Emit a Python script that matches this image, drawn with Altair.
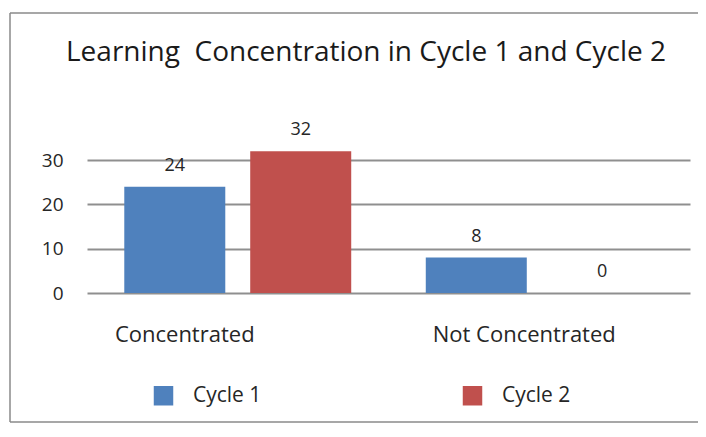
import altair as alt
import pandas as pd

categories = ["Concentrated", "Not Concentrated"]
series = ["Cycle 1", "Cycle 2"]
cycle1 = [24, 8]
cycle2 = [32, 0]
colors = ["#4F81BD", "#C0504D"]
y_ticks = [0, 10, 20, 30]
title_text = "Learning\u00a0 Concentration in Cycle 1 and Cycle 2"

rows = []
for c, v1, v2 in zip(categories, cycle1, cycle2):
    rows.append({"category": c, "series": series[0], "value": v1})
    rows.append({"category": c, "series": series[1], "value": v2})
df = pd.DataFrame(rows)

FONT = "Open Sans"
TXT = "#262626"

x_enc = alt.X(
    "category:N",
    sort=categories,
    scale=alt.Scale(paddingInner=0, paddingOuter=0),
    axis=alt.Axis(
        title=None, domain=False, ticks=False, grid=False, labelLimit=0,
        labelFontSize=22, labelColor=TXT, labelPadding=31, labelAngle=0,
        labelOffset={"condition": {"test": "datum.value === 'Concentrated'", "value": -53}, "value": -15},
    ),
)
xo_enc = alt.XOffset("series:N", sort=series,
                     scale=alt.Scale(paddingInner=0.198, paddingOuter=0.296))
y_enc = alt.Y(
    "value:Q",
    scale=alt.Scale(domain=[0, 35], nice=False),
    axis=alt.Axis(
        title=None, domain=False, ticks=False, values=y_ticks,
        gridColor="#8f8f8f", gridWidth=2, labelFontSize=19, labelColor=TXT,
        labelPadding=24,
    ),
)

bars = alt.Chart(df).mark_bar().encode(
    x=x_enc,
    xOffset=xo_enc,
    y=y_enc,
    color=alt.Color(
        "series:N",
        scale=alt.Scale(domain=series, range=colors),
        legend=alt.Legend(
            orient="none", legendX=66, legendY=247, direction="horizontal",
            title=None, symbolType="square", symbolSize=380, symbolStrokeWidth=0,
            labelFontSize=21, labelColor=TXT, labelOffset=19, columnPadding=200,
            padding=0,
        ),
    ),
)

labels = alt.Chart(df).mark_text(
    baseline="alphabetic", dy=-16, fontSize=18, color=TXT
).encode(x=x_enc, xOffset=xo_enc, y=y_enc, text="value:Q")

frame = alt.Data(values=[{}])
border_top = alt.Chart(frame).mark_rule(stroke="#8a8a8a", strokeWidth=1.5).encode(
    x=alt.value(-77), x2=alt.value(611), y=alt.value(-125))
border_left = alt.Chart(frame).mark_rule(stroke="#8a8a8a", strokeWidth=1.5).encode(
    x=alt.value(-77), y=alt.value(-125), y2=alt.value(284))
border_bottom = alt.Chart(frame).mark_rule(stroke="#8a8a8a", strokeWidth=1.5).encode(
    x=alt.value(-77), x2=alt.value(611), y=alt.value(284))

title = alt.Chart(frame).mark_text(
    text=title_text, fontSize=28, color="#1a1a1a", baseline="alphabetic", align="center"
).encode(x=alt.value(279), y=alt.value(-77))

chart = alt.layer(border_top, border_left, border_bottom, bars, labels, title).properties(
    width=603,
    height=155,
    padding={"left": 79, "top": 130, "right": 8, "bottom": 131},
    autosize=alt.AutoSizeParams(type="none"),
).configure(font=FONT).configure_view(stroke=None)

chart.save("out.html", embed_options={"renderer": "svg", "actions": False})
